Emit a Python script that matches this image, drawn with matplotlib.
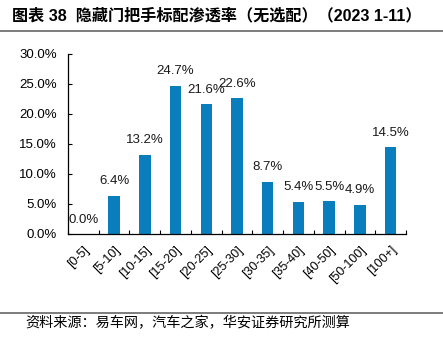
import matplotlib
matplotlib.use("Agg")
import matplotlib.pyplot as plt
from matplotlib.lines import Line2D
from matplotlib.ticker import FuncFormatter, MultipleLocator

categories = ["[0-5]", "[5-10]", "[10-15]", "[15-20]", "[20-25]", "[25-30]",
              "[30-35]", "[35-40]", "[40-50]", "[50-100]", "[100+]"]
penetration = [0.0, 6.4, 13.2, 24.7, 21.6, 22.6, 8.7, 5.4, 5.5, 4.9, 14.5]

title = "图表 38  隐藏门把手标配渗透率（无选配）（2023 1-11）"
source = "资料来源：易车网，汽车之家，华安证券研究所测算"

plt.rcParams["font.family"] = ["Liberation Sans", "Noto Sans CJK SC", "DejaVu Sans"]

W, H = 443, 337
fig = plt.figure(figsize=(W / 100, H / 100), dpi=100)
ax = fig.add_axes([68 / W, 1 - 234 / H, (406 - 68) / W, (234 - 54) / H])

x = list(range(len(categories)))
ax.bar(x, penetration, width=0.37, color="#0A7DBD", zorder=2)

for xi, v in zip(x, penetration):
    ax.annotate(f"{v:.1f}%", (xi, v), xytext=(0, 6), textcoords="offset points",
                ha="center", va="bottom", fontsize=9.5, color="#1a1a1a")

ax.set_xlim(-0.5, len(categories) - 0.5)
ax.set_ylim(0, 30)
ax.yaxis.set_major_locator(MultipleLocator(5))
ax.yaxis.set_major_formatter(FuncFormatter(lambda v, p: f"{v:.1f}%"))

ax.set_xticks([i + 0.5 for i in range(-1, len(categories))])
ax.set_xticklabels([])
ax.set_xticks(x, minor=True)
ax.set_xticklabels(categories, minor=True, rotation=45, ha="right",
                   rotation_mode="anchor", fontsize=9)
ax.tick_params(axis="x", which="minor", length=0, pad=7)
ax.tick_params(axis="x", which="major", direction="in", length=3, width=0.8)
ax.tick_params(axis="y", direction="in", length=3, width=0.8, labelsize=9.5, pad=8)

for side in ("top", "right"):
    ax.spines[side].set_visible(False)
for side in ("left", "bottom"):
    ax.spines[side].set_linewidth(0.9)
    ax.spines[side].set_color("#000000")

fig.text(12 / W, 1 - 15 / H, title, fontsize=11.6, fontweight="bold",
         va="center", ha="left",
         family=["Liberation Sans", "Noto Sans CJK SC"])
fig.add_artist(Line2D([0, 1], [1 - 31 / H, 1 - 31 / H], color="#666666",
                      linewidth=1.2, transform=fig.transFigure))
fig.add_artist(Line2D([0, 1], [1 - 313 / H, 1 - 313 / H], color="#666666",
                      linewidth=1.2, transform=fig.transFigure))
fig.text(25 / W, 1 - 323 / H, source, fontsize=10.2, va="center", ha="left",
         family=["Noto Sans CJK SC"])

fig.savefig("out.png", dpi=100)
